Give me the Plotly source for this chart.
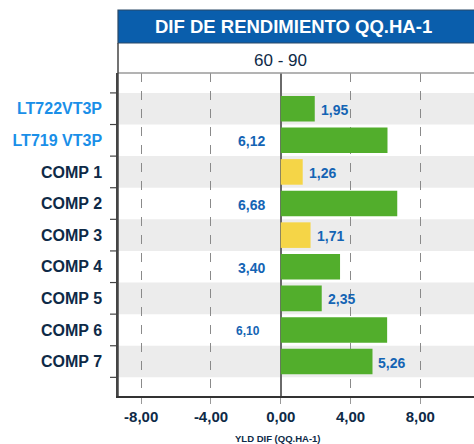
import plotly.graph_objects as go

categories = ["LT722VT3P", "LT719 VT3P", "COMP 1", "COMP 2", "COMP 3",
              "COMP 4", "COMP 5", "COMP 6", "COMP 7"]
values = [1.95, 6.12, 1.26, 6.68, 1.71, 3.40, 2.35, 6.10, 5.26]
bar_colors = ["#52ae2c", "#52ae2c", "#f5d547", "#52ae2c", "#f5d547",
              "#52ae2c", "#52ae2c", "#52ae2c", "#52ae2c"]
label_side = ["right", "left", "right", "left", "right", "left", "right", "left", "right"]
label_size = [14, 14, 14, 14, 14, 14, 14, 12, 14]
cat_colors = ["#1a8fe8", "#1a8fe8", "#0e2a47", "#0e2a47", "#0e2a47",
              "#0e2a47", "#0e2a47", "#0e2a47", "#0e2a47"]
x_ticks = [-8, -4, 0, 4, 8]
x_tick_text = ["-8,00", "-4,00", "0,00", "4,00", "8,00"]

NAVY = "#0e2a47"
LABEL_BLUE = "#1464b4"
FONT = "Liberation Sans, Arial, sans-serif"

n = len(categories)
y_range = [9.09, -1.13]
fig = go.Figure()

fig.add_trace(go.Bar(
    y=list(range(n)),
    x=values,
    orientation="h",
    marker=dict(color=bar_colors, line=dict(width=0)),
    width=0.81,
    hoverinfo="skip",
))

shapes = []
for i in range(n):
    if i % 2 == 0:
        shapes.append(dict(type="rect", xref="paper", yref="y", x0=0, x1=1,
                           y0=i - 0.5, y1=i + 0.5, fillcolor="#ececec",
                           line=dict(width=0), layer="below"))
# category-boundary tick marks on the left axis
for i in range(n + 1):
    shapes.append(dict(type="line", xref="paper", yref="y", xsizemode="pixel", xanchor=0,
                       x0=-8, x1=0, y0=i - 0.5, y1=i - 0.5,
                       line=dict(color="#444444", width=1.2)))
shapes.append(dict(type="rect", xref="paper", yref="paper", ysizemode="pixel",
                   yanchor=1, x0=0, x1=1.01, y0=30, y1=63,
                   fillcolor="#0a5eac", line=dict(color="#2a4866", width=1.2)))
shapes.append(dict(type="line", xref="paper", yref="paper", x0=0, x1=1, y0=1, y1=1,
                   line=dict(color="#9a9a9a", width=1.5)))
shapes.append(dict(type="line", xref="paper", yref="paper", ysizemode="pixel",
                   yanchor=0, x0=0, x1=0, y0=0, y1=353,
                   line=dict(color="#444444", width=1.5)))

annotations = []
for i, (v, side, sz) in enumerate(zip(values, label_side, label_size)):
    txt = "<b>%s</b>" % f"{v:.2f}".replace(".", ",")
    if side == "right":
        annotations.append(dict(x=v, y=i, xref="x", yref="y", text=txt,
                                showarrow=False, xanchor="left", xshift=4, yshift=-1,
                                font=dict(family=FONT, size=sz, color=LABEL_BLUE)))
    else:
        annotations.append(dict(x=0, y=i, xref="x", yref="y", text=txt,
                                showarrow=False, xanchor="right", xshift=-14 if sz == 14 else -19, yshift=-1,
                                font=dict(family=FONT, size=sz, color=LABEL_BLUE)))

annotations.append(dict(x=0.494, y=1, xref="paper", yref="paper", yshift=46.5,
                        text="<b>DIF DE RENDIMIENTO QQ.HA-1</b>", showarrow=False,
                        xanchor="center", yanchor="middle",
                        font=dict(family=FONT, size=18.5, color="white")))
annotations.append(dict(x=0.456, y=1, xref="paper", yref="paper", yshift=13,
                        text="60 - 90", showarrow=False,
                        xanchor="center", yanchor="middle",
                        font=dict(family=FONT, size=17, color=NAVY)))
annotations.append(dict(x=0.449, y=0, xref="paper", yref="paper", yshift=-42,
                        text="<b>YLD DIF (QQ.HA-1)</b>", showarrow=False,
                        xanchor="center", yanchor="middle",
                        font=dict(family=FONT, size=9.5, color=NAVY)))

fig.update_layout(
    width=474, height=444,
    margin=dict(l=118, r=0, t=73, b=48, pad=0),
    paper_bgcolor="white", plot_bgcolor="white",
    showlegend=False,
    shapes=shapes,
    annotations=annotations,
    xaxis=dict(
        range=[-9.33, 11.08],
        tickvals=x_ticks, ticktext=["<b>%s</b>" % t for t in x_tick_text],
        tickfont=dict(family=FONT, size=15, color=NAVY),
        showgrid=True, gridcolor="#8a8a8a", gridwidth=1, griddash="dash",
        zeroline=True, zerolinecolor="#6a6a6a", zerolinewidth=2,
        showline=True, linecolor="#333333", linewidth=1.5,
        ticks="outside", ticklen=6, tickcolor="#999999",
        fixedrange=True,
    ),
    yaxis=dict(
        type="linear",
        range=y_range,
        tickvals=list(range(n)),
        ticktext=["<b><span style='color:%s'>%s</span></b>" % (c, t) for c, t in zip(cat_colors, categories)],
        tickfont=dict(family=FONT, size=16, color=NAVY),
        showgrid=False, zeroline=False,
        showline=True, linecolor="#444444", linewidth=1.5,
        ticks="", ticklabelstandoff=11,
        fixedrange=True,
    ),
)

fig.write_html("out.html", config={"displayModeBar": False},
               post_script="document.body.style.margin='0';")
